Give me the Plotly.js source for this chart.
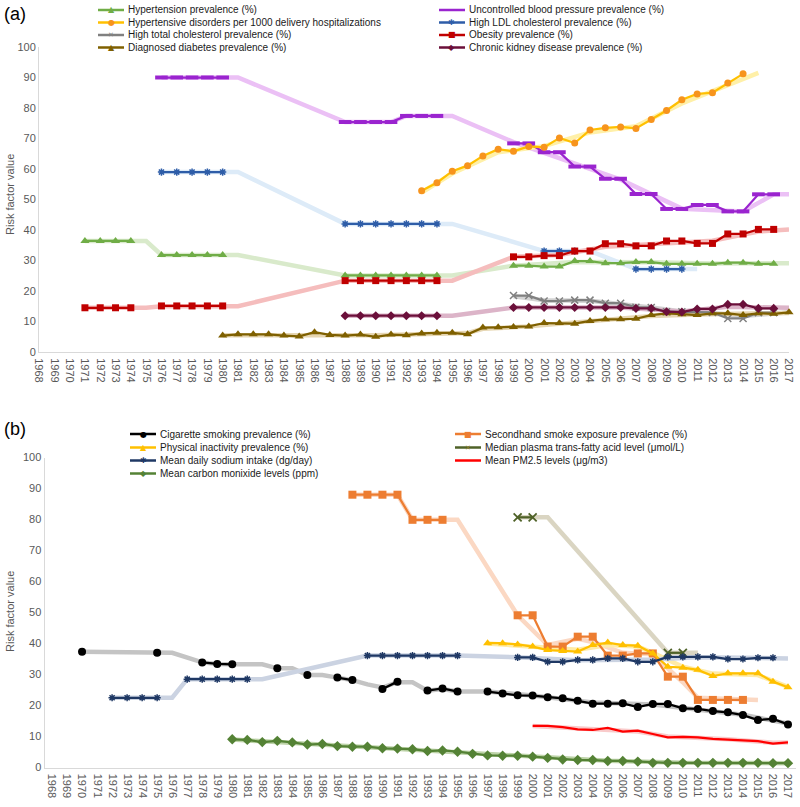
<!DOCTYPE html>
<html><head><meta charset="utf-8">
<script src="https://cdn.plot.ly/plotly-3.0.1.min.js"></script>
<style>html,body{margin:0;padding:0;background:#fff}</style>
</head><body><div id="chart" style="width:800px;height:807px"></div>
<script>
// ---------- categories ----------
const YEARS = [];
for (let y = 1968; y <= 2017; y++) YEARS.push(y);
const YEAR_LABELS = YEARS.map(String);

// ---------- Panel (a) observed series ----------
const hypStart = 1971;
const hypVals = [36.4,36.4,36.4,36.4,null,31.8,31.8,31.8,31.8,31.8,null,null,null,null,null,null,null,25.1,25.1,25.1,25.1,25.1,25.1,25.1,null,null,null,null,28.3,28.3,28.0,28.0,29.8,29.8,29.1,29.1,29.5,29.5,28.9,28.9,28.9,28.9,29.3,29.3,28.9,28.9];
const uncStart = 1976;
const uncVals = [90,90,90,90,90,null,null,null,null,null,null,null,75.4,75.4,75.4,75.4,77.4,77.4,77.4,null,null,null,null,68.4,68.4,65.5,65.5,60.8,60.8,56.8,56.8,51.8,51.8,46.9,46.9,48.2,48.2,46.1,46.1,51.7,51.7];
const hdpStart = 1993;
const hdpVals = [52.9,55.5,59.3,61.1,64.3,66.5,65.8,67.4,67.1,70.2,68.5,72.8,73.5,73.8,73.3,76.2,79.2,82.7,84.6,85.0,88.2,91.2];
const ldlStart = 1976;
const ldlVals = [59,59,59,59,59,null,null,null,null,null,null,null,42,42,42,42,42,42,42,null,null,null,null,null,null,33.1,33.1,33.1,null,null,null,27.2,27.2,27.2,27.2];
const tcStart = 1999;
const tcVals = [18.5,18.5,16.7,16.7,17.0,17.0,16.0,16.0,14.7,14.6,13.2,13.2,13.0,13.0,11.0,11.0,12.9,12.9];
const obStart = 1971;
const obVals = [14.5,14.5,14.5,14.5,null,15.1,15.1,15.1,15.1,15.1,null,null,null,null,null,null,null,23.4,23.4,23.4,23.4,23.4,23.4,23.4,null,null,null,null,31.2,31.2,31.6,31.6,33.1,33.1,35.5,35.5,34.8,34.8,36.4,36.4,35.6,35.6,38.7,38.7,40.2,40.2];
const dmStart = 1980;
const dmVals = [5.4,5.8,5.8,5.8,5.4,5.1,6.5,5.6,5.4,5.7,5.0,5.7,5.5,6.1,6.3,6.3,5.8,8.0,8.1,8.2,8.4,9.5,9.5,9.3,10.2,10.7,10.7,10.9,12.1,12.7,12.4,12.1,12.7,12.7,12.1,12.7,12.5,13.0];
const ckdStart = 1988;
const ckdVals = [11.9,11.9,11.9,11.9,11.9,11.9,11.9,null,null,null,null,14.6,14.6,14.6,14.6,14.6,14.6,14.6,14.6,14.3,14.3,13.2,13.1,14.1,14.1,15.6,15.6,14.3,14.3];

// ---------- Panel (a) faint trend lines ----------
const hypTrendYears = [1971,1975,1976,1981,1988,1995,1999,2003,2008,2012,2017];
const hypTrendVals  = [36.4,36.4,31.8,31.8,25.1,25.1,28.3,29.5,29.4,29.0,29.1];
const uncTrendYears = [1976,1981,1988,1991,1992,1995,1999,2002,2006,2010,2014,2016,2017];
const uncTrendVals  = [90,90,75.4,75.4,77.4,77.4,68.8,63.5,56.5,47.0,46.1,51.7,51.7];
const hdpTrendYears = [1993,1995,1998,2001,2004,2007,2010,2013,2015];
const hdpTrendVals  = [52.3,58.5,65.5,67.5,72.0,74.0,81.5,87.5,91.5];
const ldlTrendYears = [1976,1981,1988,1995,2001,2004,2007,2011];
const ldlTrendVals  = [59,59,42,42,33.1,33.1,27.2,27.2];
const tcTrendYears = [1999,2001,2004,2006,2008,2010,2012,2014,2017];
const tcTrendVals  = [18.3,17.0,16.8,15.8,14.6,13.3,12.8,11.8,13.0];
const obTrendYears = [1971,1975,1976,1981,1988,1995,1999,2002,2005,2008,2012,2015,2017];
const obTrendVals  = [14.5,14.5,15.0,15.0,23.4,23.4,31.2,31.8,34.5,35.3,36.5,39.5,40.2];
const dmTrendYears = [1980,1985,1990,1996,1997,2000,2004,2008,2011,2017];
const dmTrendVals  = [5.5,5.5,5.5,6.2,7.6,8.4,10.0,11.8,12.3,12.8];
const ckdTrendYears = [1988,1995,1999,2006,2010,2013,2017];
const ckdTrendVals  = [11.9,11.9,14.6,14.6,13.3,14.8,14.5];

// ---------- Panel (b) observed series ----------
const smkStart = 1970;
const smkVals = [37.3,null,null,null,null,37.0,null,null,33.9,33.4,33.3,null,null,32.0,null,29.8,null,29.0,28.2,null,25.3,27.7,null,24.8,25.5,24.5,null,24.5,23.9,23.3,23.2,22.7,22.3,21.5,20.6,20.6,20.7,19.5,20.5,20.5,19.1,18.9,18.2,17.8,16.9,15.3,15.7,13.9];
const shsStart = 1988;
const shsVals = [88,88,88,88,79.9,79.9,79.9,null,null,null,null,49.1,49.1,39.0,39.0,42.2,42.2,36.1,36.1,36.8,36.8,29.3,29.3,21.8,21.8,21.8,21.8];
const paStart = 1997;
const paVals = [40.1,40.1,39.7,39.0,37.9,37.6,37.4,39.5,40.3,39.5,39.3,36.8,32.5,32.2,31.5,29.5,30.4,30.4,30.4,27.7,25.9];
const tfaStart = 1999;
const tfaVals = [80.7,80.7,null,null,null,null,null,null,null,null,37.0,37.0];
const naStart = 1972;
const naVals = [22.5,22.5,22.5,22.5,null,28.5,28.5,28.5,28.5,28.5,null,null,null,null,null,null,null,36.1,36.1,36.1,36.1,36.1,36.1,36.1,null,null,null,35.5,35.5,34.1,34.1,34.7,34.7,35.2,35.2,34.1,34.1,35.7,35.7,35.7,35.7,35.0,35.0,35.4,35.4];
const pmStart = 2000;
const pmVals = [13.4,13.4,13.0,12.3,12.1,12.8,11.6,11.9,10.8,9.7,9.9,9.7,9.2,9.0,8.8,8.5,7.7,8.1];
const coStart = 1980;
const coVals = [9.1,8.9,8.2,8.6,8.1,7.4,7.6,6.9,6.7,6.7,6.2,6.1,5.9,5.3,5.5,5.1,4.4,3.9,3.8,3.8,3.5,3.1,2.6,2.4,2.4,2.1,2.1,1.9,1.5,1.5,1.5,1.5,1.5,1.5,1.5,1.5,1.4,1.4];

// ---------- Panel (b) faint trend lines ----------
const smkTrendYears = [1970,1976,1978,1979,1980,1982,1983,1984,1985,1986,1987,1988,1989,1990,1991,1992,1993,1994,1995,1997,2000,2004,2008,2010,2014,2017];
const smkTrendVals  = [37.3,37.0,33.9,33.4,33.3,33.3,32.0,32.0,29.8,29.8,29.0,28.2,26.8,25.8,27.5,27.5,24.8,25.3,24.5,24.5,23.2,21.0,20.3,19.3,17.0,14.2];
const shsTrendYears = [1988,1991,1992,1995,1999,2001,2003,2004,2006,2008,2010,2011,2015];
const shsTrendVals  = [88,88,79.9,79.9,49.1,39.5,41.5,40.5,37.0,36.5,27.5,22.5,21.8];
const paTrendYears = [1997,2000,2003,2005,2007,2008,2010,2012,2015,2017];
const paTrendVals  = [40.0,39.0,38.0,39.5,39.0,37.0,32.5,30.3,29.8,26.0];
const tfaTrendYears = [1999,2001,2009,2011];
const tfaTrendVals  = [80.7,80.7,37.0,37.0];
const naTrendYears = [1972,1976,1977,1982,1989,1995,1999,2003,2008,2011,2017];
const naTrendVals  = [22.5,22.5,28.5,28.5,36.1,36.1,35.6,34.6,34.8,35.6,35.2];
const pmTrendYears = [2000,2004,2007,2009,2013,2016,2017];
const pmTrendVals  = [13.4,12.3,11.6,10.0,9.1,8.0,8.1];
const coTrendYears = [1980,1985,1990,1995,2000,2005,2010,2017];
const coTrendVals  = [9.0,7.6,6.3,5.1,3.5,2.2,1.5,1.4];

// ---------- helpers ----------
const W = 800, H = 807;
const px = v => v / W;
const py = v => 1 - v / H;
function xs(start, vals) { return vals.map((_, i) => start + i); }

const traces = [];
function faint(xv, yv, color, ax) {
  traces.push({x: xv, y: yv, mode: 'lines', connectgaps: true, showlegend: false, hoverinfo: 'skip',
    line: {color: color, width: 4.5}, xaxis: ax[0], yaxis: ax[1]});
}
function main(start, vals, lineColor, marker, ax) {
  const t = {x: xs(start, vals), y: vals, mode: marker ? 'lines+markers' : 'lines', connectgaps: false,
    showlegend: false, line: {color: lineColor, width: 2.25}, xaxis: ax[0], yaxis: ax[1], cliponaxis: false};
  if (marker) t.marker = marker;
  traces.push(t);
}
const A = ['x', 'y'], B = ['x2', 'y2'];

// colors
const C = {
  hyp: '#70AD47', unc: '#9A24CF', hdp: '#FFC000', hdpM: '#F7941D', ldl: '#2E5DA8', tc: '#808080',
  ob: '#C00000', dm: '#7F6000', ckd: '#6B0F3A',
  smk: '#000000', shs: '#ED7D31', pa: '#FFC000', tfa: '#4F6228', tfaM: '#8B7D2A', na: '#1F3864', pm: '#FF0000', co: '#548235'
};

// faint lines panel a
faint(hypTrendYears, hypTrendVals, '#D9EACB', A);
faint(uncTrendYears, uncTrendVals, '#EBC0F5', A);
faint(hdpTrendYears, hdpTrendVals, '#FFF0A8', A);
faint(ldlTrendYears, ldlTrendVals, '#DDEBF8', A);
faint(tcTrendYears, tcTrendVals, '#D3D3D3', A);
faint(obTrendYears, obTrendVals, '#F5BDBD', A);
faint(dmTrendYears, dmTrendVals, '#E6D6B2', A);
faint(ckdTrendYears, ckdTrendVals, '#DCB4C8', A);
// main panel a
main(hypStart, hypVals, C.hyp, {symbol: 'triangle-up', size: 8, color: C.hyp}, A);
main(uncStart, uncVals, C.unc, {symbol: 'line-ew-open', size: 9, line: {color: C.unc, width: 4}}, A);
main(hdpStart, hdpVals, C.hdp, {symbol: 'circle', size: 7, color: C.hdpM}, A);
main(ldlStart, ldlVals, C.ldl, {symbol: 'asterisk-open', size: 6, line: {color: C.ldl, width: 1.5}}, A);
main(tcStart, tcVals, C.tc, {symbol: 'x-thin-open', size: 7, line: {color: C.tc, width: 1.5}}, A);
main(obStart, obVals, C.ob, {symbol: 'square', size: 7, color: C.ob}, A);
main(dmStart, dmVals, C.dm, {symbol: 'triangle-up', size: 8, color: C.dm}, A);
main(ckdStart, ckdVals, C.ckd, {symbol: 'diamond', size: 7, color: C.ckd}, A);

// faint lines panel b
faint(smkTrendYears, smkTrendVals, '#C4C4C4', B);
faint(shsTrendYears, shsTrendVals, '#FBD8C3', B);
faint(paTrendYears, paTrendVals, '#FFEBA6', B);
faint(tfaTrendYears, tfaTrendVals, '#DAD5C2', B);
faint(naTrendYears, naTrendVals, '#CBD3E2', B);
faint(pmTrendYears, pmTrendVals, '#F9CACA', B);
faint(coTrendYears, coTrendVals, '#BDD3A8', B);
// main panel b
main(smkStart, smkVals, C.smk, {symbol: 'circle', size: 8, color: C.smk}, B);
main(shsStart, shsVals, C.shs, {symbol: 'square', size: 8, color: C.shs}, B);
main(paStart, paVals, C.pa, {symbol: 'triangle-up', size: 8, color: C.pa}, B);
main(tfaStart, tfaVals, C.tfa, {symbol: 'x-thin-open', size: 8, line: {color: C.tfaM, width: 1.8}}, B);
main(naStart, naVals, C.na, {symbol: 'asterisk-open', size: 6, line: {color: C.na, width: 1.5}}, B);
main(pmStart, pmVals, C.pm, null, B);
main(coStart, coVals, C.co, {symbol: 'diamond', size: 8, color: C.co}, B);

// ---------- legends (drawn as shapes + text) ----------
const shapes = [];
const annotations = [];
const FONT = 'Liberation Sans, Arial, sans-serif';
const NARROW = 'Liberation Sans Narrow, Arial Narrow, Liberation Sans, sans-serif';
function legendItem(x0, y, label, lineColor, glyph, glyphColor, glyphSize) {
  shapes.push({type: 'line', xref: 'paper', yref: 'paper', x0: px(x0), x1: px(x0 + 26), y0: py(y), y1: py(y),
    line: {color: lineColor, width: 2.5}});
  if (glyph) annotations.push({xref: 'paper', yref: 'paper', x: px(x0 + 13), y: py(y), text: glyph, showarrow: false,
    xanchor: 'center', yanchor: 'middle', font: {family: 'DejaVu Sans', size: glyphSize || 8, color: glyphColor}});
  annotations.push({xref: 'paper', yref: 'paper', x: px(x0 + 28), y: py(y), text: label, showarrow: false,
    xanchor: 'left', yanchor: 'middle', font: {family: NARROW, size: 10, color: '#1A1A1A'}});
}
const aRows = [10, 22.5, 35, 47.5];
const aCol1 = 98, aCol2 = 439;
legendItem(aCol1, aRows[0], 'Hypertension prevalence (%)', C.hyp, '▲', C.hyp);
legendItem(aCol2, aRows[0], 'Uncontrolled blood pressure prevalence (%)', C.unc, null);
legendItem(aCol1, aRows[1], 'Hypertensive disorders per 1000 delivery hospitalizations', C.hdp, '●', C.hdpM);
legendItem(aCol2, aRows[1], 'High LDL cholesterol prevalence (%)', C.ldl, '✱', C.ldl);
legendItem(aCol1, aRows[2], 'High total cholesterol prevalence (%)', C.tc, '✕', C.tc, 7);
legendItem(aCol2, aRows[2], 'Obesity prevalence (%)', C.ob, '■', C.ob);
legendItem(aCol1, aRows[3], 'Diagnosed diabetes prevalence (%)', C.dm, '▲', C.dm);
legendItem(aCol2, aRows[3], 'Chronic kidney disease prevalence (%)', C.ckd, '◆', C.ckd);

const bRows = [434, 447.5, 460.5, 473.5];
const bCol1 = 130, bCol2 = 455;
legendItem(bCol1, bRows[0], 'Cigarette smoking prevalence (%)', C.smk, '●', C.smk);
legendItem(bCol2, bRows[0], 'Secondhand smoke exposure prevalence (%)', C.shs, '■', C.shs);
legendItem(bCol1, bRows[1], 'Physical inactivity prevalence (%)', C.pa, '▲', C.pa);
legendItem(bCol2, bRows[1], 'Median plasma trans-fatty acid level (μmol/L)', C.tfa, '✕', C.tfaM, 7);
legendItem(bCol1, bRows[2], 'Mean daily sodium intake (dg/day)', C.na, '✱', C.na);
legendItem(bCol2, bRows[2], 'Mean PM2.5 levels (μg/m3)', C.pm, null);
legendItem(bCol1, bRows[3], 'Mean carbon monixide levels (ppm)', C.co, '◆', C.co);

// panel letters
annotations.push({xref: 'paper', yref: 'paper', x: px(2), y: py(14), text: '(a)', showarrow: false,
  xanchor: 'left', yanchor: 'middle', font: {family: NARROW, size: 18, color: '#000'}});
annotations.push({xref: 'paper', yref: 'paper', x: px(2), y: py(429), text: '(b)', showarrow: false,
  xanchor: 'left', yanchor: 'middle', font: {family: NARROW, size: 18, color: '#000'}});
// y titles
annotations.push({xref: 'paper', yref: 'paper', x: px(10), y: py(195), text: 'Risk factor value', showarrow: false,
  textangle: -90, xanchor: 'center', yanchor: 'middle', font: {family: FONT, size: 11, color: '#595959'}});
annotations.push({xref: 'paper', yref: 'paper', x: px(10), y: py(612), text: 'Risk factor value', showarrow: false,
  textangle: -90, xanchor: 'center', yanchor: 'middle', font: {family: FONT, size: 11, color: '#595959'}});

const xCommon = {tickmode: 'array', tickvals: YEARS, ticktext: YEAR_LABELS, tickangle: 90,
  tickfont: {family: FONT, size: 11, color: '#595959'}, showgrid: false, zeroline: false,
  showline: true, linecolor: '#D9D9D9', linewidth: 1, ticks: 'outside', ticklen: 3, tickcolor: 'rgba(0,0,0,0)', fixedrange: true};
const yCommon = {range: [0, 100], dtick: 10, tick0: 0, showgrid: false, zeroline: false, showline: true,
  linecolor: '#D9D9D9', linewidth: 1, tickfont: {family: FONT, size: 11, color: '#595959'}, ticks: '', fixedrange: true};

const layout = {
  width: W, height: H, margin: {l: 0, r: 0, t: 0, b: 0}, paper_bgcolor: '#fff', plot_bgcolor: '#fff',
  showlegend: false,
  xaxis: Object.assign({}, xCommon, {range: [1968, 2017], domain: [px(39), px(789)], anchor: 'y'}),
  yaxis: Object.assign({}, yCommon, {domain: [py(352), py(47)], anchor: 'x'}),
  xaxis2: Object.assign({}, xCommon, {range: [1967.5, 2017.5], domain: [px(44.5), px(795.5)], anchor: 'y2'}),
  yaxis2: Object.assign({}, yCommon, {domain: [py(767.5), py(457.5)], anchor: 'x2'}),
  shapes: shapes, annotations: annotations
};

Plotly.newPlot('chart', traces, layout, {displayModeBar: false, staticPlot: true});
</script></body></html>
